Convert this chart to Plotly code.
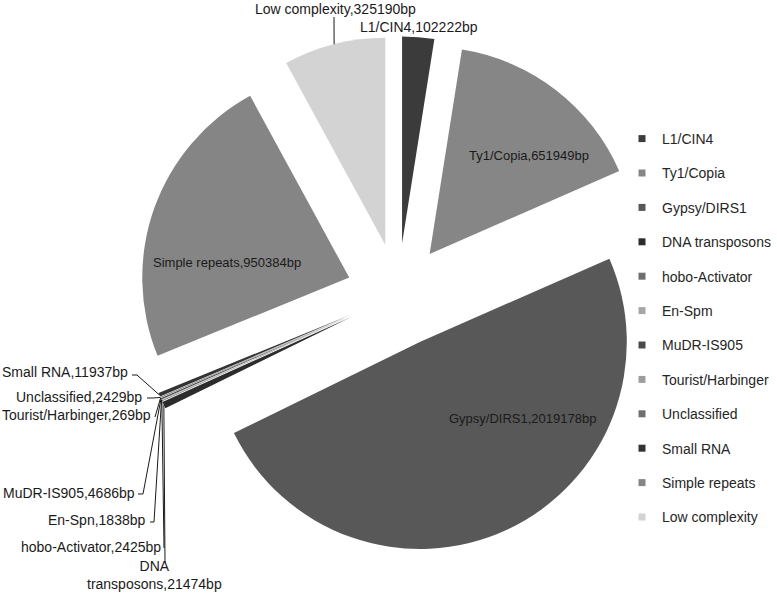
import math
import plotly.graph_objects as go

W, H = 777, 593

# legend / slice categories
labels = ["L1/CIN4", "Ty1/Copia", "Gypsy/DIRS1", "DNA transposons", "hobo-Activator",
          "En-Spm", "MuDR-IS905", "Tourist/Harbinger", "Unclassified", "Small RNA",
          "Simple repeats", "Low complexity"]
# names as written on the slice labels
label_text = ["L1/CIN4", "Ty1/Copia", "Gypsy/DIRS1", "DNA<br>transposons", "hobo-Activator",
              "En-Spn", "MuDR-IS905", "Tourist/Harbinger", "Unclassified", "Small RNA",
              "Simple repeats", "Low complexity"]
values = [102222, 651949, 2019178, 21474, 2425, 1838, 4686, 269, 2429, 11937, 950384, 325190]
colors = ["#3b3b3b", "#868686", "#585858", "#2c2c2c", "#6e6e6e", "#a6a6a6",
          "#4a4a4a", "#9e9e9e", "#707070", "#333333", "#858585", "#d3d3d3"]

FONT = "Liberation Sans, Arial, sans-serif"
TXT = "#1a1a1a"

# pie placement (pixels): centre, radius, explosion
pull = 0.25
px_cx, px_cy, px_r = 398, 295, 207
half = px_r * (1 + pull)
dom_x = [(px_cx - half - 10) / W, (px_cx + half + 10) / W]
dom_y = [1 - (px_cy + half) / H, 1 - (px_cy - half) / H]

texts = [f"{t},{v}bp" for t, v in zip(label_text, values)]

fig = go.Figure()
fig.add_trace(go.Pie(
    labels=labels, values=values, textinfo="none",
    marker=dict(colors=colors, line=dict(width=0)),
    sort=False, direction="clockwise", rotation=0,
    pull=[pull] * len(values), domain=dict(x=dom_x, y=dom_y),
    showlegend=False, hoverinfo="label+value",
))

# legend entries (small squares, spaced like the original)
for l, c in zip(labels, colors):
    fig.add_trace(go.Scatter(x=[None], y=[None], mode="markers", name=l,
                             legendgroup=l, marker=dict(symbol="square", size=7, color=c)))

# pie geometry in pixels (same rules plotly uses)
cx = W * (dom_x[0] + dom_x[1]) / 2
cy = H * (1 - (dom_y[0] + dom_y[1]) / 2)
r = min(W * (dom_x[1] - dom_x[0]), H * (dom_y[1] - dom_y[0])) / 2 / (1 + pull)
total = sum(values)


def tip(i):
    before = sum(values[:i])
    a = math.radians((before + values[i] / 2) / total * 360)
    return cx + (1 + pull) * r * math.sin(a), cy - (1 + pull) * r * math.cos(a)


def px(x, y):
    return x / W, 1 - y / H


# labels: text position (px), anchor, font size, leader start, stub length
placed = {
    "Ty1/Copia": (529, 155, "center", 13, None, 0),
    "Gypsy/DIRS1": (522, 418, "center", 13, None, 0),
    "Simple repeats": (227, 262, "center", 13, None, 0),
    "Low complexity": (335, 9, "center", 14, (334, 17), 0),
    "L1/CIN4": (419, 27, "center", 14, None, 0),
    "Small RNA": (130, 372, "right", 14, (132, 375), 5),
    "Unclassified": (144, 397, "right", 14, (147, 398), 6),
    "Tourist/Harbinger": (153, 415, "right", 14, (155, 417), 0),
    "MuDR-IS905": (137, 493, "right", 14, (138, 494), 5),
    "En-Spm": (148, 520, "right", 14, (150, 522), 4),
    "hobo-Activator": (163, 547, "right", 14, (164, 548), 0),
    "DNA transposons": (154, 575, "center", 14, (165, 563), 0),
}

for i, l in enumerate(labels):
    tx, ty, anc, size, start, stub = placed[l]
    x, y = px(tx, ty)
    fig.add_annotation(x=x, y=y, xref="paper", yref="paper", text=texts[i],
                       showarrow=False, xanchor=anc, yanchor="middle",
                       font=dict(size=size, color=TXT, family=FONT))
    if start is None:
        continue
    ex, ey = tip(i)
    sx, sy = start
    pts = [(sx, sy)]
    if stub:
        pts.append((sx + stub, sy))
    pts.append((ex, ey))
    path = "M " + " L ".join(f"{px(a, b)[0]:.5f},{px(a, b)[1]:.5f}" for a, b in pts)
    fig.add_shape(type="path", path=path, xref="paper", yref="paper",
                  line=dict(color=TXT, width=1))

fig.update_layout(
    width=W, height=H,
    margin=dict(l=0, r=0, t=0, b=0, autoexpand=False),
    paper_bgcolor="white", plot_bgcolor="white",
    xaxis=dict(visible=False), yaxis=dict(visible=False),
    legend=dict(x=(662 - 40) / W, y=1 - 123 / H, xanchor="left", yanchor="top",
                tracegroupgap=13.2, traceorder="grouped",
                font=dict(size=14, color="#262626", family=FONT),
                bgcolor="rgba(0,0,0,0)"),
    font=dict(family=FONT),
)

# drop the browser's default body margin so the chart sits at the page corner
fig.write_html("out.html", config={"displayModeBar": False},
               post_script="document.body.style.margin='0';")
